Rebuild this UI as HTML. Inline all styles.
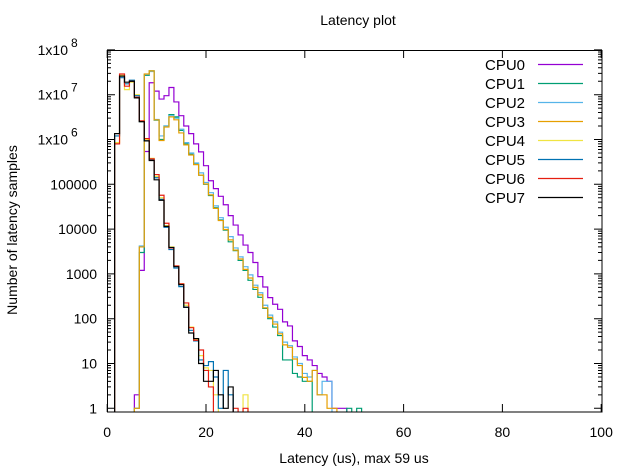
<!DOCTYPE html>
<html><head><meta charset="utf-8"><style>
body{margin:0;background:#fff}
svg{display:block;font-family:"Liberation Sans",sans-serif}
</style></head><body>
<svg id="chart" width="617" height="469" viewBox="0 0 617 469">
<text x="358" y="25" font-size="14" text-anchor="middle">Latency plot</text>
<text transform="translate(17,230) rotate(-90)" font-size="14" text-anchor="middle">Number of latency samples</text>
<text x="354" y="463" font-size="14" text-anchor="middle">Latency (us), max 59 us</text>
<defs><clipPath id="pc"><rect x="107" y="50" width="495" height="362"/></clipPath></defs>
<g id="axes"></g>
<g id="series" clip-path="url(#pc)"></g>
<rect x="107.5" y="50.5" width="494.5" height="361.5" fill="none" stroke="#000" stroke-width="1"/>
<g id="legend"></g>
</svg>
<script>
const seriesNames = ["CPU0","CPU1","CPU2","CPU3","CPU4","CPU5","CPU6","CPU7"];
const seriesColors = ["#9400d3","#009e73","#56b4e9","#e69f00","#f0e442","#0072b2","#e51e10","#000000"];
const seriesStart = [5.5,5.5,5.5,5.5,1.5,1.5,1.5,1.5];
const cpu0 = [2,1200,5.4e5,1.85e7,1.2e7,8e6,9.5e6,1.45e7,6.9e6,3.4e6,2e6,1.35e6,8e5,5.3e5,2.6e5,1.2e5,8e4,5.4e4,3.5e4,2e4,1.23e4,7400,4400,3000,1800,870,510,295,210,162,85,69,32,24,15,12,9,6,5,4,1,1,1];
const cpu1 = [1,3000,2.7e7,3.4e7,2.7e6,1e6,2e6,3.6e6,3.2e6,1.6e6,8e5,4.7e5,2.8e5,1.6e5,1e5,5.6e4,3e4,1.6e4,9500,5200,3300,2000,1200,720,450,300,170,100,65,42,12,12,6,5,4,4,0,0,0,0,0,0,0,1,0,1];
const cpu2 = [1,4200,2.8e7,3.3e7,2.8e6,1.2e6,2e6,3.4e6,3e6,1.7e6,8.5e5,5e5,3e5,1.8e5,1.1e5,6.5e4,3.3e4,1.8e4,1.1e4,6800,3800,2400,1450,950,560,380,200,120,85,50,30,25,14,10,6,5,7,2,4,4];
const cpu3 = [1,4000,2.9e7,3.4e7,2.75e6,9.5e5,1.9e6,3.2e6,2.75e6,1.4e6,7.6e5,4.5e5,2.75e5,1.6e5,1.02e5,5.8e4,2.9e4,1.55e4,9800,5750,3400,2150,1260,810,500,340,175,107,76,46,26,23,12.6,9,4.9,4,7,2,2,1,1];
const cpu4 = [8.5e5,2.7e7,1.3e7,1.9e7,1e7,2.5e6,1e6,3.8e5,1.5e5,5e4,1.2e4,4000,1500,600,200,65,35,15,8,7,2,0,0,0,0,0,2];
const cpu5 = [1.2e6,2.4e7,1.75e7,2.1e7,9.5e6,2.5e6,9.3e5,3.6e5,1.4e5,4.6e4,1.1e4,3500,1350,520,180,55,32,12,9,11,5,1,7,2];
const cpu6 = [8e5,2.9e7,1.55e7,2e7,8.8e6,2.6e6,1.05e6,3.7e5,1.65e5,5.7e4,1.35e4,3800,1500,600,225,63,33,20,7,3,0,0,0,0,1,0,1];
const cpu7 = [1.35e6,2.6e7,1.9e7,2e7,8.5e6,2.5e6,9.3e5,3.4e5,1.26e5,4.4e4,1.15e4,3900,1450,575,180,48,36,10,4,4,7,2,1,3];
const xTicks = [0,20,40,60,80,100];
const yTickExp = [0,1,2,3,4,5,6,7,8];
const yTickLabels = ["1","10","100","1000","10000","100000","1x10|6","1x10|7","1x10|8"];

const NS="http://www.w3.org/2000/svg";
const X0=107.2, XS=4.94, Y0=408.3, YS=44.8, BOT=412, TOP=50, RIGHT=602;
function xPos(u){return X0+XS*u;}
function yPos(v){return v>0 ? Y0-YS*Math.log10(v) : BOT+10;}
function mk(tag,attrs,parent){const e=document.createElementNS(NS,tag);for(const k in attrs)e.setAttribute(k,attrs[k]);parent.appendChild(e);return e;}

const axes=document.getElementById('axes');
xTicks.forEach(function(t){
  const x=xPos(t);
  const tk=mk('path',{d:`M${x},${BOT}v-8M${x},${TOP}v8`,stroke:'#000','stroke-width':1},axes);
  
  
  const lb=mk('text',{x:x,y:437,'font-size':14,'text-anchor':'middle'},axes);
  lb.textContent=String(t);
  
  
});
yTickExp.forEach(function(e,i){
  const y=Y0-YS*e;
  const tk=mk('path',{d:`M107,${y}h8M${RIGHT},${y}h-8`,stroke:'#000','stroke-width':1},axes);
  
  
  if(e<8){for(let m=2;m<=9;m++){const ym=y-YS*Math.log10(m);
    const mt=mk('path',{d:`M107,${ym}h4M${RIGHT},${ym}h-4`,stroke:'#000','stroke-width':1},axes);
    
    }}
  const parts=yTickLabels[i].split('|');
  const lb=mk('text',{x:parts.length>1?68:97,y:y+5,'font-size':14,'text-anchor':'end'},axes);
  lb.textContent=parts[0];
  
  
  if(parts.length>1){const sp=mk('text',{x:71,y:y-3,'font-size':12},axes);sp.textContent=parts[1];
    
    }
});

const allData=[cpu0,cpu1,cpu2,cpu3,cpu4,cpu5,cpu6,cpu7];
const sg=document.getElementById('series');
const lg=document.getElementById('legend');
allData.forEach(function(vals,s){
  const st=seriesStart[s];
  let d=`M${xPos(st)},${BOT+10}`;
  vals.forEach(function(v,i){const y=yPos(v);d+=`L${xPos(st+i)},${y}L${xPos(st+i+1)},${y}`;});
  d+=`L${xPos(st+vals.length)},${BOT+10}`;
  const p=mk('path',{d:d,fill:'none',stroke:seriesColors[s],'stroke-width':1.2},sg);
  
  
  const ly=64.5+19*s;
  const t=mk('text',{x:525,y:ly+5.5,'font-size':15,'text-anchor':'end'},lg);
  t.textContent=seriesNames[s];
  
  
  const l=mk('path',{d:`M538,${ly}H583`,stroke:seriesColors[s],'stroke-width':1.2},lg);
  
  
});
</script>
</body></html>
